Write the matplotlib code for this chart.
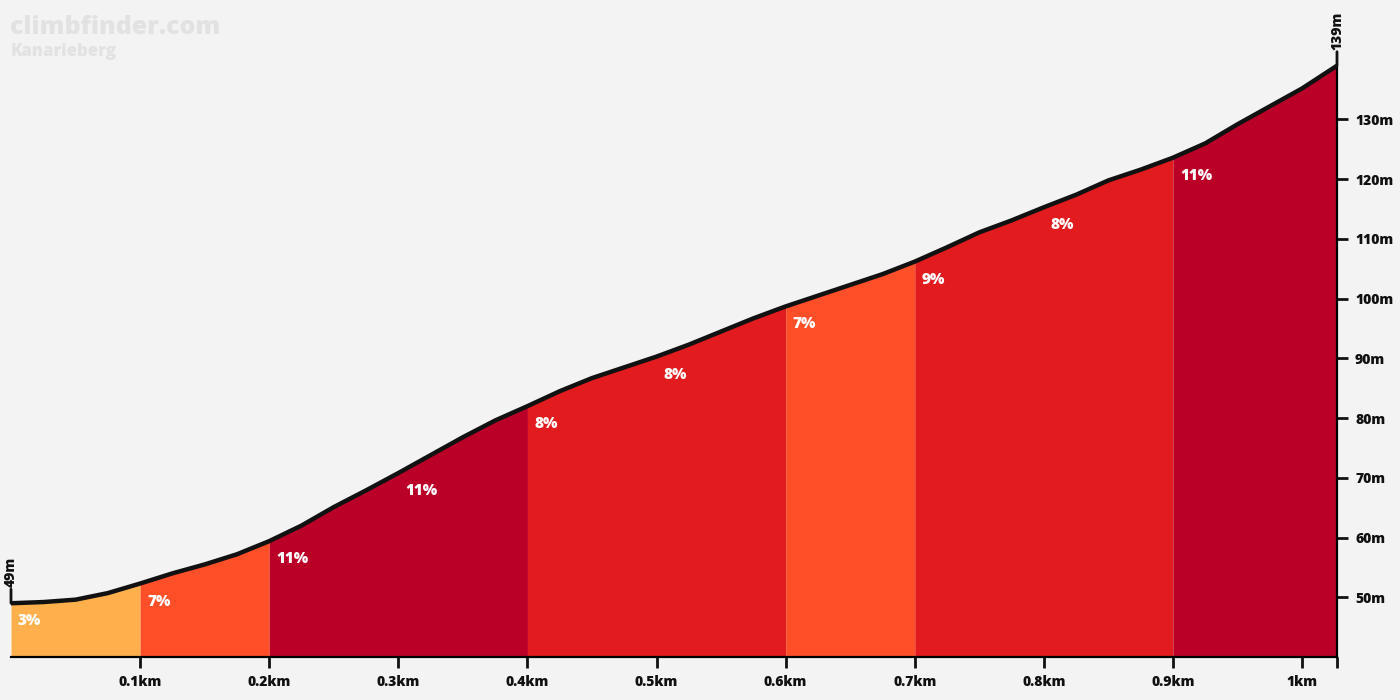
import numpy as np
import matplotlib
matplotlib.use("agg")
import matplotlib.pyplot as plt

# профиль подъёма: расстояние (км) и высота (м)
dist_km = [0.0, 0.025, 0.05, 0.075, 0.1, 0.125, 0.15, 0.175, 0.2, 0.225, 0.25, 0.275,
           0.3, 0.325, 0.35, 0.375, 0.4, 0.425, 0.45, 0.475, 0.5, 0.525, 0.55, 0.575,
           0.6, 0.625, 0.65, 0.675, 0.7, 0.725, 0.75, 0.775, 0.8, 0.825, 0.85, 0.875,
           0.9, 0.925, 0.95, 0.975, 1.0, 1.027]
elev_m = [49.0, 49.2, 49.6, 50.7, 52.3, 54.0, 55.5, 57.2, 59.4, 62.0, 65.1, 67.9,
          70.8, 73.8, 76.8, 79.6, 82.0, 84.5, 86.7, 88.5, 90.3, 92.3, 94.5, 96.7,
          98.7, 100.5, 102.3, 104.1, 106.2, 108.6, 111.1, 113.1, 115.3, 117.4, 119.8, 121.6,
          123.6, 126.0, 129.2, 132.2, 135.2, 139.0]

# уклоны по отрезкам 100 м
seg_start = [0.0, 0.1, 0.2, 0.3, 0.4, 0.5, 0.6, 0.7, 0.8, 0.9]
seg_end = [0.1, 0.2, 0.3, 0.4, 0.5, 0.6, 0.7, 0.8, 0.9, 1.027]
seg_grade = [3, 7, 11, 11, 8, 8, 7, 9, 8, 11]

x_ticks = [0.1, 0.2, 0.3, 0.4, 0.5, 0.6, 0.7, 0.8, 0.9, 1.0]
x_tick_labels = ["0.1km", "0.2km", "0.3km", "0.4km", "0.5km", "0.6km", "0.7km", "0.8km", "0.9km", "1km"]
y_ticks = [50, 60, 70, 80, 90, 100, 110, 120, 130]

title = "climbfinder.com"
subtitle = "Kanarieberg"


def grade_color(g):
    if g <= 4:
        return "#FFB04C"
    if g <= 7:
        return "#FE4F29"
    if g <= 9:
        return "#E11B1E"
    return "#BB0027"


plt.rcParams['font.family'] = ['Open Sans', 'DejaVu Sans']
FW = 800
bg = "#F3F3F3"

fig = plt.figure(figsize=(14, 7), dpi=100, facecolor=bg)
ax = fig.add_axes([11 / 1400, 43 / 700, 1326 / 1400, 657 / 700])
ax.set_facecolor(bg)

x = np.array(dist_km)
y = np.array(elev_m)

# склеиваем соседние отрезки одного цвета, чтобы не было швов
blocks = []
for s, e, g in zip(seg_start, seg_end, seg_grade):
    c = grade_color(g)
    if blocks and blocks[-1][2] == c:
        blocks[-1][1] = e
    else:
        blocks.append([s, e, c])

for s, e, c in blocks:
    mask = (x >= s - 1e-9) & (x <= e + 1e-9)
    ax.fill_between(x[mask], 40, y[mask], color=c, linewidth=0)

for s, g in zip(seg_start, seg_grade):
    y0 = np.interp(s, x, y)
    ax.annotate(f"{g}%", (s, y0), xytext=(7, -18), textcoords="offset pixels",
                color="white", fontsize=11, fontweight=FW, ha="left", va="center")

# линия профиля
ax.plot(x, y, color="#111111", linewidth=3.2, solid_capstyle="round", zorder=5)

ax.set_xlim(0, dist_km[-1])
ax.set_ylim(40, 150)

# оси
for side in ["left", "top"]:
    ax.spines[side].set_visible(False)
ax.spines["right"].set_linewidth(1.6)
ax.spines["bottom"].set_linewidth(1.6)
ax.spines["right"].set_bounds(40, elev_m[-1])
ax.yaxis.tick_right()
ax.set_yticks(y_ticks)
ax.set_yticklabels([f"{v}m" for v in y_ticks])
ax.set_xticks(x_ticks + [dist_km[-1]])
ax.set_xticklabels(x_tick_labels + [""])
ax.tick_params(axis="both", length=8, width=2, color="#111111", labelsize=10, pad=5)
for lbl in ax.get_xticklabels() + ax.get_yticklabels():
    lbl.set_fontweight(FW)
    lbl.set_color("#111111")

# отметки начала и конца
for xv, yv in [(dist_km[0], elev_m[0]), (dist_km[-1], elev_m[-1])]:
    ax.annotate("", (xv, yv), xytext=(0, 14), textcoords="offset pixels",
                arrowprops=dict(arrowstyle="-", color="#111111", lw=2, shrinkA=0, shrinkB=0))
    ax.annotate(f"{yv:.0f}m", (xv, yv), xytext=(0, 16), textcoords="offset pixels",
                rotation=90, ha="center", va="bottom", fontsize=10, fontweight=FW,
                color="#111111", annotation_clip=False)

# водяной знак
fig.text(10 / 1400, 1 - 27 / 700, title, fontsize=18, fontweight=FW, color="#E2E2E2",
         ha="left", va="center")
fig.text(11 / 1400, 1 - 51 / 700, subtitle, fontsize=12, fontweight=FW, color="#E2E2E2",
         ha="left", va="center")

fig.savefig("out.png", dpi=100, facecolor=bg)
